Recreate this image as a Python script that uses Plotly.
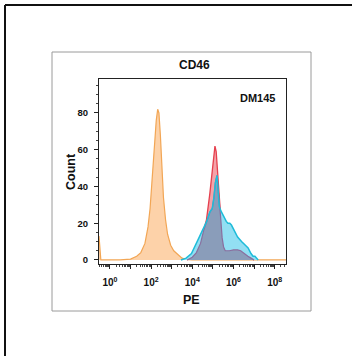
import plotly.graph_objects as go

# ---- data (x in log10 units of PE, y = count) ----
iso_lx = [-0.53, -0.49, -0.44, 0.5, 1.0, 1.3, 1.5, 1.7, 1.85, 1.95, 2.05, 2.15, 2.25, 2.32,
          2.38, 2.45, 2.52, 2.6, 2.7, 2.8, 2.95, 3.1, 3.3, 3.5, 3.7, 4.0, 8.6]
iso_ct = [13, 4, 0, 0, 0.5, 2, 4, 9, 18, 28, 45, 62, 76, 82,
          80, 68, 50, 34, 22, 14, 8, 5, 3, 1, 0.3, 0, 0]

red_lx = [3.75, 4.0, 4.2, 4.4, 4.55, 4.69, 4.85, 4.95, 5.03, 5.1, 5.16, 5.22, 5.3, 5.37,
          5.45, 5.52, 5.6, 5.8, 6.0, 6.2, 6.35, 6.5, 6.7, 6.85, 7.0]
red_ct = [0, 1.5, 4, 9, 16, 22, 36, 46, 56, 62, 59, 48, 35, 24,
          12, 7, 5, 5, 5.5, 5.5, 5, 3.5, 2, 1, 0]

cyan_lx = [3.45, 3.7, 3.96, 4.2, 4.4, 4.53, 4.7, 4.85, 4.97, 5.05, 5.12, 5.2, 5.26, 5.31,
           5.42, 5.55, 5.65, 5.73, 5.82, 5.9, 6.0, 6.07, 6.2, 6.39, 6.55, 6.71, 6.85,
           6.95, 7.04, 7.12, 7.2]
cyan_ct = [0, 1, 3.5, 9, 14, 17, 21, 26, 28, 34, 42, 46, 38, 29,
           26, 23, 21, 20, 20, 19, 17, 15, 12.5, 10, 8, 6.5, 3.5,
           2, 2, 1, 0]

# overlap region of the two stained samples
ovl_lx = [3.75, 4.0, 4.2, 4.4, 4.55, 4.7, 4.85, 4.97, 5.05, 5.12, 5.2, 5.26, 5.31, 5.37,
          5.45, 5.52, 5.6, 5.8, 6.0, 6.2, 6.35, 6.5, 6.7, 6.85, 7.0]
ovl_ct = [0, 1.5, 4, 9, 16, 21, 26, 28, 34, 42, 46, 38, 29, 24,
          12, 7, 5, 5, 5.5, 5.5, 5, 3.5, 2, 1, 0]

decades = list(range(0, 9))
tick_text = [f"10<sup>{d}</sup>" if d % 2 == 0 else "" for d in decades]


def px(lx):
    return [10 ** v for v in lx]


FONT = "Arial, Liberation Sans, sans-serif"
fig = go.Figure()

fig.add_trace(go.Scatter(x=px(iso_lx), y=iso_ct, mode="lines", fill="tozeroy",
                         fillcolor="#FDD2A9", line=dict(color="#F2A655", width=1.2),
                         showlegend=False, hoverinfo="skip"))
fig.add_trace(go.Scatter(x=px(red_lx), y=red_ct, mode="lines", fill="tozeroy",
                         fillcolor="#F4A3A9", line=dict(width=0, color="#F4A3A9"),
                         showlegend=False, hoverinfo="skip"))
fig.add_trace(go.Scatter(x=px(red_lx), y=red_ct, mode="lines",
                         line=dict(color="#E5404E", width=1.3),
                         showlegend=False, hoverinfo="skip"))
fig.add_trace(go.Scatter(x=px(cyan_lx), y=cyan_ct, mode="lines", fill="tozeroy",
                         fillcolor="#92DFF3", line=dict(width=0, color="#92DFF3"),
                         showlegend=False, hoverinfo="skip"))
fig.add_trace(go.Scatter(x=px(ovl_lx), y=ovl_ct, mode="lines", fill="tozeroy",
                         fillcolor="#8A9DBA", line=dict(color="#8A6E9E", width=1.2),
                         showlegend=False, hoverinfo="skip"))
fig.add_trace(go.Scatter(x=px(cyan_lx), y=cyan_ct, mode="lines",
                         line=dict(color="#1FBCD9", width=1.5),
                         showlegend=False, hoverinfo="skip"))

fig.update_xaxes(
    type="log", range=[-0.53, 8.55],
    tickvals=[10 ** d for d in decades], ticktext=tick_text,
    ticks="outside", ticklen=4, tickwidth=1, tickcolor="#222",
    minor=dict(ticks="outside", ticklen=2, tickcolor="#444", dtick="D1"),
    showline=True, linecolor="#222", linewidth=1, mirror=True,
    showgrid=False, zeroline=False, ticklabelstandoff=5,
    tickfont=dict(family=FONT, size=10, color="#111", weight="bold"),
)
fig.update_yaxes(
    range=[-2.2, 98.5], tickvals=[0, 20, 40, 60, 80],
    ticks="outside", ticklen=4, tickwidth=1, tickcolor="#222",
    minor=dict(ticks="outside", ticklen=2, tickcolor="#444", dtick=5),
    showline=True, linecolor="#222", linewidth=1, mirror=True,
    showgrid=False, zeroline=False, ticklabelstandoff=4,
    tickfont=dict(family=FONT, size=9.5, color="#111", weight="bold"),
)

W, H = 352, 356
L, R, T, B = 99, 286, 79, 264


def xp(p):
    return (p - L) / (R - L)


def yp(p):
    return (B - p) / (B - T)


shapes = [
    dict(type="line", xref="paper", yref="paper", x0=xp(5), x1=xp(5), y0=yp(5), y1=yp(H),
         line=dict(color="#111", width=2)),
    dict(type="line", xref="paper", yref="paper", x0=xp(5), x1=xp(W), y0=yp(5), y1=yp(5),
         line=dict(color="#111", width=2)),
    dict(type="rect", xref="paper", yref="paper", x0=xp(52), x1=xp(311), y0=yp(52), y1=yp(311),
         line=dict(color="#9A9A9A", width=1)),
]


def label(text, x, y, size, angle=0):
    return dict(text=f"<b>{text}</b>", xref="paper", yref="paper", x=xp(x), y=yp(y),
                xanchor="center", yanchor="middle", textangle=angle, showarrow=False,
                font=dict(family=FONT, size=size, color="#111"))


annotations = [
    label("CD46", 194, 65, 12),
    label("DM145", 257, 97.5, 11),
    label("Count", 71, 172, 12.5, angle=-90),
    label("PE", 191, 300, 12.5),
]

fig.update_layout(
    width=W, height=H,
    margin=dict(l=L, r=W - R, t=T, b=H - B),
    paper_bgcolor="white", plot_bgcolor="white",
    shapes=shapes, annotations=annotations,
    showlegend=False,
)

fig.write_html("out.html", config={"displayModeBar": False},
               post_script="document.body.style.margin='0';document.body.style.overflow='hidden';")
